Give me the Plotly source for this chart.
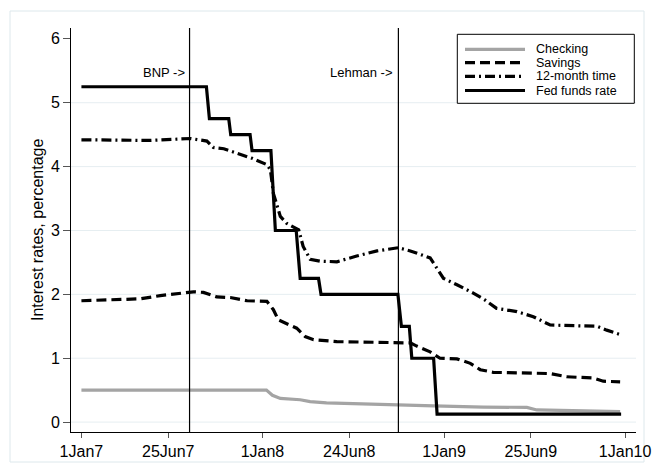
import plotly.graph_objects as go

# ---- data ----
checking_dates = ["2007-01-01", "2008-01-09", "2008-01-21", "2008-02-06", "2008-03-17", "2008-04-06",
                  "2008-05-09", "2008-07-29", "2008-10-01", "2008-12-11", "2009-03-21", "2009-06-17",
                  "2009-07-07", "2009-09-05", "2009-12-22"]
checking_vals = [0.50, 0.50, 0.42, 0.37, 0.35, 0.32, 0.30, 0.28, 0.27, 0.255, 0.235, 0.23, 0.19, 0.18, 0.165]

savings_dates = ["2007-01-01", "2007-03-14", "2007-04-30", "2007-06-09", "2007-07-19", "2007-08-15",
                 "2007-09-04", "2007-10-01", "2007-10-28", "2007-12-01", "2008-01-10", "2008-01-23",
                 "2008-02-02", "2008-02-26", "2008-03-10", "2008-03-27", "2008-04-13", "2008-05-30",
                 "2008-08-05", "2008-10-01", "2008-10-25", "2008-11-07", "2008-12-04", "2008-12-24",
                 "2009-01-27", "2009-02-23", "2009-03-15", "2009-04-10", "2009-05-28", "2009-08-03",
                 "2009-09-05", "2009-10-29", "2009-11-18", "2009-12-22"]
savings_vals = [1.90, 1.92, 1.93, 1.98, 2.02, 2.04, 2.03, 1.96, 1.95, 1.90, 1.89, 1.76,
                1.60, 1.52, 1.47, 1.34, 1.29, 1.26, 1.25, 1.25, 1.24, 1.19, 1.10, 1.00,
                0.99, 0.92, 0.82, 0.78, 0.77, 0.76, 0.71, 0.69, 0.64, 0.63]

time12_dates = ["2007-01-01", "2007-03-21", "2007-05-20", "2007-07-13", "2007-08-09", "2007-09-11",
                "2007-09-24", "2007-10-15", "2007-11-17", "2007-12-11", "2008-01-10", "2008-01-17",
                "2008-01-23", "2008-02-06", "2008-02-19", "2008-03-14", "2008-03-23", "2008-04-06",
                "2008-04-26", "2008-05-30", "2008-07-09", "2008-08-19", "2008-10-01", "2008-10-25",
                "2008-12-04", "2008-12-18", "2008-12-31", "2009-01-27", "2009-03-01", "2009-03-25",
                "2009-04-17", "2009-05-28", "2009-06-30", "2009-08-03", "2009-09-05", "2009-10-09",
                "2009-11-05", "2009-11-25", "2009-12-22"]
time12_vals = [4.42, 4.41, 4.41, 4.43, 4.44, 4.40, 4.30, 4.28, 4.20, 4.13, 4.03, 3.95,
               3.58, 3.22, 3.11, 3.01, 2.75, 2.55, 2.52, 2.51, 2.60, 2.68, 2.73, 2.68,
               2.57, 2.41, 2.25, 2.15, 2.02, 1.91, 1.78, 1.73, 1.65, 1.52, 1.51, 1.51,
               1.50, 1.44, 1.37]

fed_dates = ["2007-01-01", "2007-09-10", "2007-09-16", "2007-10-25", "2007-10-29", "2007-12-07",
             "2007-12-11", "2008-01-18", "2008-01-27", "2008-03-09", "2008-03-17", "2008-04-23",
             "2008-04-28", "2008-09-30", "2008-10-07", "2008-10-23", "2008-10-28", "2008-12-11",
             "2008-12-18", "2009-12-24"]
fed_vals = [5.25, 5.25, 4.75, 4.75, 4.50, 4.50, 4.25, 4.25, 3.00, 3.00, 2.25, 2.25,
            2.00, 2.00, 1.50, 1.50, 1.00, 1.00, 0.125, 0.125]

event_dates = ["2007-08-07", "2008-10-01"]
event_labels = ["BNP ->", "Lehman ->"]

tick_dates = ["2007-01-01", "2007-06-25", "2008-01-01", "2008-06-24", "2009-01-01", "2009-06-25", "2010-01-01"]
tick_labels = ["1Jan7", "25Jun7", "1Jan8", "24Jun8", "1Jan9", "25Jun9", "1Jan10"]
y_ticks = [0, 1, 2, 3, 4, 5, 6]
grid_vals = [0, 1, 2, 3, 4, 5]

series_names = ["Checking", "Savings", "12-month time", "Fed funds rate"]
series_colors = ["#a4a4a4", "black", "black", "black"]
series_dash = ["solid", "10px,5px", "10px,4px,2px,4px", "solid"]

FONT = "Liberation Sans, Arial, sans-serif"
LW = 3.2

W, H = 652, 472
# plot-area geometry in window pixels (as measured on the reference)
L, R, T, B = 71, 636, 28, 432
def px(x): return (x - L) / (R - L)
def py(y): return (B - y) / (B - T)

fig = go.Figure()
series = [(checking_dates, checking_vals), (savings_dates, savings_vals),
          (time12_dates, time12_vals), (fed_dates, fed_vals)]
for (xs, ys), name, col, dash in zip(series, series_names, series_colors, series_dash):
    fig.add_trace(go.Scatter(x=xs, y=ys, mode="lines", name=name,
                             line=dict(color=col, width=LW, dash=dash)))

shapes = []
for g in grid_vals:
    shapes.append(dict(type="line", xref="paper", yref="y", x0=0, x1=1, y0=g, y1=g,
                       line=dict(color="#e6eef1", width=1), layer="below"))
for d in event_dates:
    shapes.append(dict(type="line", xref="x", yref="paper", x0=d, x1=d, y0=0, y1=1,
                       line=dict(color="black", width=1.2)))
# outer graph-region frame
shapes.append(dict(type="rect", xref="paper", yref="paper", x0=px(10), x1=px(644), y0=py(462), y1=py(11),
                   line=dict(color="#dde8ec", width=1), layer="below"))

annotations = []
for d, t in zip(event_dates, event_labels):
    annotations.append(dict(x=d, y=5.47, xref="x", yref="y", text=t, showarrow=False,
                            xanchor="right", yanchor="middle", xshift=-3,
                            font=dict(family=FONT, size=13, color="black")))

# legend box (drawn as shapes + text)
shapes.append(dict(type="rect", xref="paper", yref="paper", x0=px(457.3), x1=px(634.3),
                   y0=py(103.3), y1=py(34.3), line=dict(color="black", width=1),
                   fillcolor="white", layer="above"))
row_y = [49.3, 62.7, 76.3, 90.5]
for ry, name, col, dash in zip(row_y, series_names, series_colors, series_dash):
    shapes.append(dict(type="line", xref="paper", yref="paper", x0=px(465), x1=px(525),
                       y0=py(ry), y1=py(ry), line=dict(color=col, width=LW, dash=dash), layer="above"))
    annotations.append(dict(x=px(535), y=py(ry), xref="paper", yref="paper", text=name,
                            showarrow=False, xanchor="left", yanchor="middle", borderpad=0,
                            font=dict(family=FONT, size=12.5, color="black")))

# y-axis title
annotations.append(dict(x=px(37), y=0.5, xref="paper", yref="paper", text="Interest rates, percentage",
                        textangle=-90, showarrow=False, xanchor="center", yanchor="middle",
                        font=dict(family=FONT, size=16, color="black")))

fig.update_layout(
    width=W, height=H,
    margin=dict(l=L, r=W - R, t=T, b=H - B),
    paper_bgcolor="white", plot_bgcolor="white",
    font=dict(family=FONT, size=16, color="black"),
    shapes=shapes, annotations=annotations,
    showlegend=False,
)
fig.update_xaxes(type="date", range=["2006-12-11", "2010-01-23"],
                 tickvals=tick_dates, ticktext=tick_labels, automargin=False,
                 showgrid=False, zeroline=False, showline=True, linecolor="black", linewidth=1,
                 ticks="outside", ticklen=5, tickcolor="#555555",
                 tickfont=dict(family=FONT, size=16))
fig.update_yaxes(range=[-0.155, 6.17], tickvals=y_ticks, automargin=False,
                 showgrid=False, zeroline=False, showline=True, linecolor="black", linewidth=1,
                 ticks="outside", ticklen=7, tickcolor="#555555",
                 tickfont=dict(family=FONT, size=16))

# remove the default page margin so the 652x472 figure fills the window exactly
fig.write_html("out.html", config={"displayModeBar": False},
               post_script="document.body.style.margin='0';document.body.style.overflow='hidden';")
